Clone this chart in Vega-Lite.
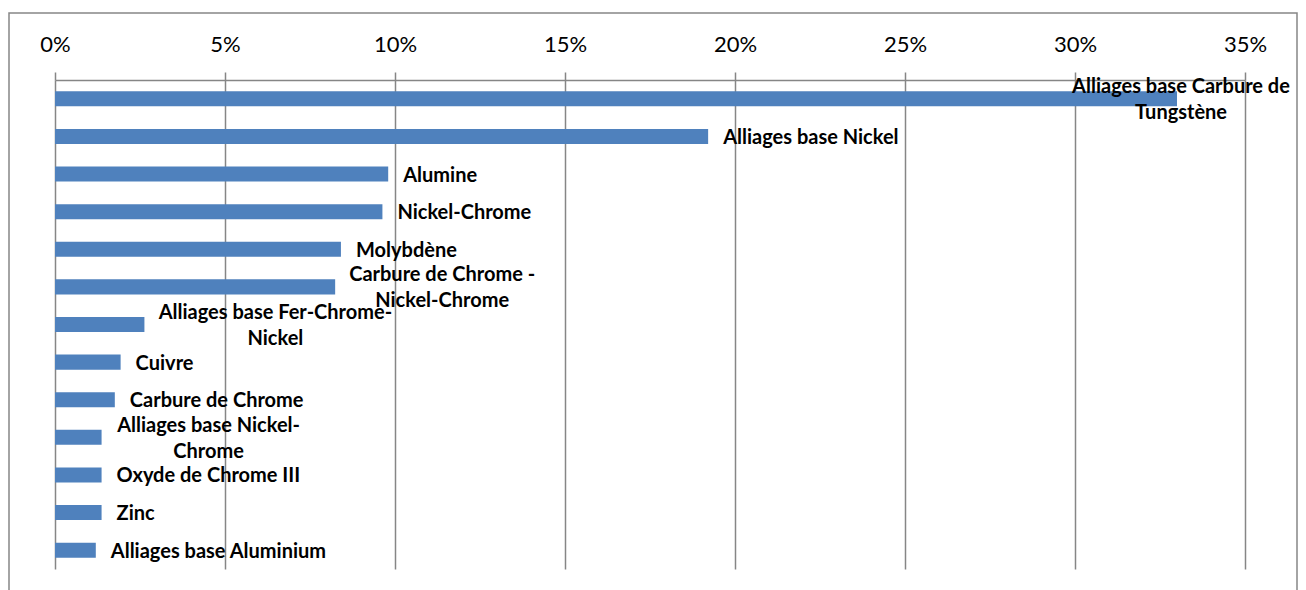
{
  "$schema": "https://vega.github.io/schema/vega-lite/v6.json",
  "width": 1288,
  "height": 580,
  "autosize": "none",
  "padding": {"left": 9, "top": 13, "right": 9, "bottom": 0},
  "background": "white",
  "config": {
    "view": {"stroke": "#868686", "strokeWidth": 1.5},
    "font": "Lato",
    "text": {"font": "Lato", "fontWeight": "bold", "fontSize": 20, "color": "#000000", "baseline": "middle", "lineBreak": "\n", "lineHeight": 26}
  },
  "data": {
    "values": [
      {"material": "Alliages base Carbure de Tungstène", "label": "Alliages base Carbure de\nTungstène", "share": 33.0},
      {"material": "Alliages base Nickel", "label": "Alliages base Nickel", "share": 19.21},
      {"material": "Alumine", "label": "Alumine", "share": 9.8},
      {"material": "Nickel-Chrome", "label": "Nickel-Chrome", "share": 9.63},
      {"material": "Molybdène", "label": "Molybdène", "share": 8.41},
      {"material": "Carbure de Chrome - Nickel-Chrome", "label": "Carbure de Chrome -\nNickel-Chrome", "share": 8.24},
      {"material": "Alliages base Fer-Chrome-Nickel", "label": "Alliages base Fer-Chrome-\nNickel", "share": 2.63},
      {"material": "Cuivre", "label": "Cuivre", "share": 1.93},
      {"material": "Carbure de Chrome", "label": "Carbure de Chrome", "share": 1.76},
      {"material": "Alliages base Nickel-Chrome", "label": "Alliages base Nickel-\nChrome", "share": 1.37},
      {"material": "Oxyde de Chrome III", "label": "Oxyde de Chrome III", "share": 1.37},
      {"material": "Zinc", "label": "Zinc", "share": 1.37},
      {"material": "Alliages base Aluminium", "label": "Alliages base Aluminium", "share": 1.2}
    ]
  },
  "encoding": {
    "y": {
      "field": "material",
      "type": "nominal",
      "sort": null,
      "scale": {"range": [67, 556], "paddingInner": 0.6, "paddingOuter": 0.3},
      "axis": null
    },
    "x": {
      "field": "share",
      "type": "quantitative",
      "scale": {"domain": [0, 35], "range": [46, 1236], "nice": false, "zero": true},
      "axis": {
        "orient": "top",
        "values": [0, 5, 10, 15, 20, 25, 30, 35],
        "labelExpr": "datum.value + '%'",
        "title": null,
        "offset": -67,
        "grid": true,
        "gridColor": "#868686",
        "gridWidth": 1.5,
        "domainColor": "#868686",
        "domainWidth": 1.5,
        "tickColor": "#868686",
        "tickWidth": 1.5,
        "tickSize": 8,
        "labelFont": "Lato",
        "labelFontSize": 22,
        "labelColor": "#000000",
        "labelPadding": 16,
        "labelFlush": false,
        "labelOverlap": false
      }
    }
  },
  "layer": [
    {
      "mark": {"type": "bar", "color": "#4F81BD"}
    },
    {
      "transform": [{"filter": {"not": {"field": "material", "oneOf": ["Alliages base Carbure de Tungstène", "Carbure de Chrome - Nickel-Chrome", "Alliages base Fer-Chrome-Nickel", "Alliages base Nickel-Chrome"]}}}],
      "mark": {"type": "text", "align": "left", "dx": 15, "dy": 1.5},
      "encoding": {"text": {"field": "label"}}
    },
    {
      "transform": [{"filter": {"field": "material", "equal": "Carbure de Chrome - Nickel-Chrome"}}],
      "mark": {"type": "text", "align": "center", "dx": 107, "dy": -11.5},
      "encoding": {"text": {"field": "label"}}
    },
    {
      "transform": [{"filter": {"field": "material", "equal": "Alliages base Fer-Chrome-Nickel"}}],
      "mark": {"type": "text", "align": "center", "dx": 131, "dy": -11.5},
      "encoding": {"text": {"field": "label"}}
    },
    {
      "transform": [{"filter": {"field": "material", "equal": "Alliages base Nickel-Chrome"}}],
      "mark": {"type": "text", "align": "center", "dx": 107, "dy": -11.5},
      "encoding": {"text": {"field": "label"}}
    },
    {
      "transform": [{"filter": {"field": "material", "equal": "Alliages base Carbure de Tungstène"}}],
      "mark": {"type": "text", "align": "center", "dx": 4, "dy": -11.5},
      "encoding": {"text": {"field": "label"}}
    }
  ]
}
